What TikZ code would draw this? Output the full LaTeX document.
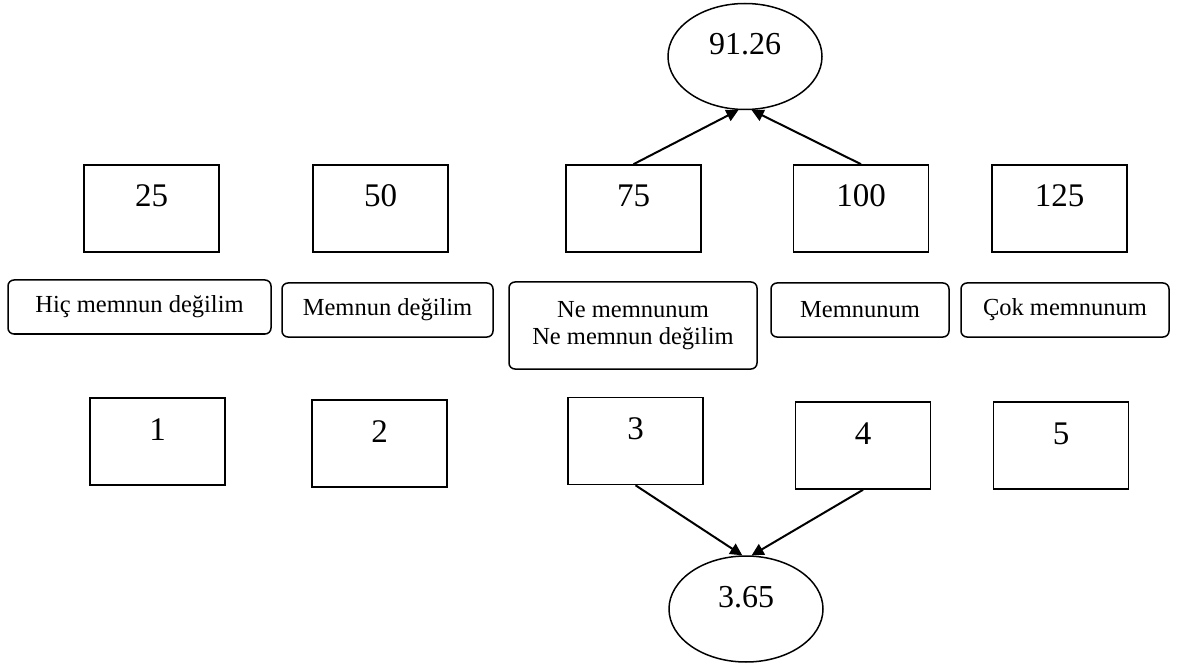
\documentclass[tikz,border=0pt]{standalone}
\usepackage{fontspec}
\setmainfont{Liberation Serif}
\usetikzlibrary{shapes.geometric, arrows.meta}

\begin{document}
\begin{tikzpicture}[x=1pt, y=-1pt,
    valbox/.style={draw, line width=1.6pt, inner sep=0pt, minimum width=135pt,
      text height=42pt, text depth=45pt, font=\fontsize{33}{38}\selectfont},
    answer/.style={draw, line width=1.5pt, rounded corners=6pt, align=center,
      inner sep=0pt, minimum height=54pt, font=\fontsize{24.5}{27}\selectfont},
    mean/.style={draw, ellipse, line width=1.5pt, inner sep=0pt,
      minimum width=154pt, minimum height=106pt, text height=22pt,
      text depth=25pt, font=\fontsize{32}{36}\selectfont}]
    \useasboundingbox (0, 0) rectangle (1178, 668);

    % score row
    \node [mean] (pct) at (745, 56.5) {91.26};
    \node [valbox] (v25) at (151.5, 208.5) {25};
    \node [valbox] (v50) at (380.5, 208.5) {50};
    \node [valbox] (v75) at (633.5, 208.5) {75};
    \node [valbox] (v100) at (861, 208.5) {100};
    \node [valbox] (v125) at (1059.5, 208.5) {125};

    % answers
    \node [answer, minimum width=263pt] (a1) at (139.5, 307) {Hiç memnun değilim};
    \node [answer, minimum width=211pt] (a2) at (387.5, 310) {Memnun değilim};
    \node [answer, minimum width=248pt, minimum height=87pt] (a3) at (633, 325.5)
      {Ne memnunum\\Ne memnun değilim};
    \node [answer, minimum width=178pt] (a4) at (860, 310) {Memnunum};
    \node [answer, minimum width=208pt] (a5) at (1065, 310) {Çok memnunum};

    % point row
    \node [valbox] (p1) at (157.5, 441.5) {1};
    \node [valbox] (p2) at (379.5, 443.5) {2};
    \node [valbox] (p3) at (635.5, 441) {3};
    \node [valbox] (p4) at (863, 445.5) {4};
    \node [valbox] (p5) at (1061, 445.5) {5};
    \node [mean] (avg) at (746, 609) {3.65};

    \draw [->, >={Triangle[length=12pt, width=12pt]}, line width=2pt]
      (v75.north) -- (pct.263);
    \draw [->, >={Triangle[length=12pt, width=12pt]}, line width=2pt]
      (v100.north) -- (pct.277);
    \draw [->, >={Triangle[length=12pt, width=12pt]}, line width=2pt]
      (p3.south) -- (avg.94);
    \draw [->, >={Triangle[length=12pt, width=12pt]}, line width=2pt]
      (p4.south) -- (avg.84);
\end{tikzpicture}
\end{document}
